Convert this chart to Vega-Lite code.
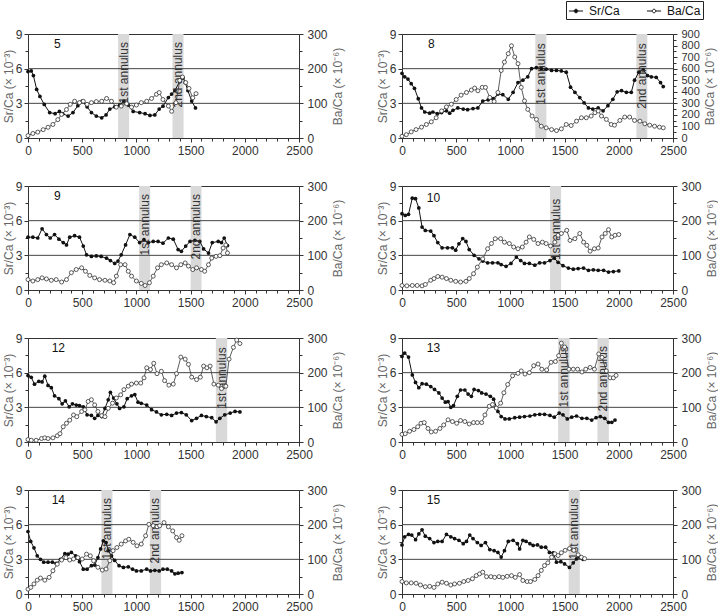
{
"$schema": "https://vega.github.io/schema/vega-lite/v6.json",
"padding": {"left": 1, "top": 0, "right": 0, "bottom": 0},
"datasets": {
"grid": [{"g": 3}, {"g": 6}],
"panels": [{"f":5,"name":"5"},{"f":8,"name":"8"},{"f":9,"name":"9"},{"f":10,"name":"10"},{"f":12,"name":"12"},{"f":13,"name":"13"},{"f":14,"name":"14"},{"f":15,"name":"15"}],
"bands": [
{"f":5,"x0":831,"x1":933,"label":"1st annulus"},{"f":5,"x0":1333,"x1":1435,"label":"2nd annulus"},
{"f":8,"x0":1230,"x1":1332,"label":"1st annulus"},{"f":8,"x0":2162,"x1":2263,"label":"2nd annulus"},
{"f":9,"x0":1025,"x1":1127,"label":"1st annulus"},{"f":9,"x0":1500,"x1":1601,"label":"2nd annulus"},
{"f":10,"x0":1366,"x1":1468,"label":"1st annulus"},
{"f":12,"x0":1733,"x1":1838,"label":"1st annulus"},
{"f":13,"x0":1440,"x1":1546,"label":"1st annulus"},{"f":13,"x0":1803,"x1":1908,"label":"2nd annulus"},
{"f":14,"x0":677,"x1":779,"label":"1st annulus"},{"f":14,"x0":1124,"x1":1228,"label":"2nd annulus"},
{"f":15,"x0":1538,"x1":1640,"label":"1st annulus"}
],
"sr": [
{"f":5,"x":0,"v":5.75},{"f":5,"x":30,"v":5.8},{"f":5,"x":50,"v":5.4},{"f":5,"x":80,"v":4.2},{"f":5,"x":110,"v":3.6},{"f":5,"x":150,"v":2.9},{"f":5,"x":200,"v":2.2},{"f":5,"x":250,"v":2.1},{"f":5,"x":290,"v":2.3},{"f":5,"x":320,"v":2.1},{"f":5,"x":370,"v":1.9},{"f":5,"x":415,"v":2.2},{"f":5,"x":460,"v":2.8},{"f":5,"x":500,"v":3.2},{"f":5,"x":545,"v":2.7},{"f":5,"x":585,"v":2.2},{"f":5,"x":630,"v":1.9},{"f":5,"x":680,"v":1.75},{"f":5,"x":720,"v":2.0},{"f":5,"x":755,"v":2.5},{"f":5,"x":800,"v":2.7},{"f":5,"x":845,"v":2.85},{"f":5,"x":885,"v":3.2},{"f":5,"x":925,"v":2.85},{"f":5,"x":970,"v":2.3},{"f":5,"x":1030,"v":2.2},{"f":5,"x":1080,"v":2.1},{"f":5,"x":1125,"v":1.95},{"f":5,"x":1170,"v":2.0},{"f":5,"x":1210,"v":2.5},{"f":5,"x":1245,"v":2.75},{"f":5,"x":1295,"v":3.5},{"f":5,"x":1325,"v":3.8},{"f":5,"x":1355,"v":4.1},{"f":5,"x":1400,"v":4.9},{"f":5,"x":1430,"v":5.2},{"f":5,"x":1450,"v":4.8},{"f":5,"x":1475,"v":4.1},{"f":5,"x":1510,"v":3.2},{"f":5,"x":1545,"v":2.6},
{"f":8,"x":0,"v":5.6},{"f":8,"x":25,"v":5.3},{"f":8,"x":55,"v":5.1},{"f":8,"x":85,"v":4.7},{"f":8,"x":115,"v":4.3},{"f":8,"x":150,"v":3.4},{"f":8,"x":180,"v":2.6},{"f":8,"x":210,"v":2.25},{"f":8,"x":255,"v":2.15},{"f":8,"x":285,"v":2.25},{"f":8,"x":325,"v":2.1},{"f":8,"x":365,"v":2.2},{"f":8,"x":410,"v":2.35},{"f":8,"x":440,"v":2.15},{"f":8,"x":470,"v":2.4},{"f":8,"x":515,"v":2.6},{"f":8,"x":565,"v":2.5},{"f":8,"x":605,"v":2.45},{"f":8,"x":655,"v":2.55},{"f":8,"x":700,"v":2.6},{"f":8,"x":745,"v":3.2},{"f":8,"x":795,"v":3.3},{"f":8,"x":840,"v":3.4},{"f":8,"x":885,"v":3.8},{"f":8,"x":930,"v":3.75},{"f":8,"x":980,"v":3.35},{"f":8,"x":1025,"v":3.95},{"f":8,"x":1070,"v":4.8},{"f":8,"x":1115,"v":5.0},{"f":8,"x":1160,"v":5.3},{"f":8,"x":1195,"v":6.0},{"f":8,"x":1240,"v":6.1},{"f":8,"x":1285,"v":6.0},{"f":8,"x":1330,"v":5.95},{"f":8,"x":1380,"v":5.85},{"f":8,"x":1425,"v":5.85},{"f":8,"x":1470,"v":5.8},{"f":8,"x":1515,"v":5.7},{"f":8,"x":1555,"v":4.4},{"f":8,"x":1595,"v":3.95},{"f":8,"x":1640,"v":3.5},{"f":8,"x":1680,"v":3.05},{"f":8,"x":1720,"v":2.6},{"f":8,"x":1760,"v":2.5},{"f":8,"x":1810,"v":2.6},{"f":8,"x":1855,"v":2.35},{"f":8,"x":1900,"v":2.8},{"f":8,"x":1945,"v":3.35},{"f":8,"x":1985,"v":4.0},{"f":8,"x":2025,"v":4.1},{"f":8,"x":2070,"v":3.95},{"f":8,"x":2115,"v":3.95},{"f":8,"x":2145,"v":5.0},{"f":8,"x":2185,"v":5.7},{"f":8,"x":2225,"v":5.9},{"f":8,"x":2265,"v":5.4},{"f":8,"x":2300,"v":5.3},{"f":8,"x":2345,"v":5.25},{"f":8,"x":2385,"v":4.8},{"f":8,"x":2410,"v":4.45},
{"f":9,"x":0,"v":4.57},{"f":9,"x":45,"v":4.57},{"f":9,"x":90,"v":4.5},{"f":9,"x":130,"v":5.3},{"f":9,"x":170,"v":4.8},{"f":9,"x":205,"v":4.5},{"f":9,"x":245,"v":4.8},{"f":9,"x":285,"v":4.4},{"f":9,"x":325,"v":4.1},{"f":9,"x":355,"v":3.9},{"f":9,"x":385,"v":4.57},{"f":9,"x":430,"v":4.7},{"f":9,"x":475,"v":4.57},{"f":9,"x":510,"v":3.8},{"f":9,"x":540,"v":3.05},{"f":9,"x":585,"v":2.9},{"f":9,"x":630,"v":2.95},{"f":9,"x":675,"v":2.9},{"f":9,"x":725,"v":2.75},{"f":9,"x":760,"v":2.55},{"f":9,"x":800,"v":2.3},{"f":9,"x":830,"v":2.5},{"f":9,"x":860,"v":3.05},{"f":9,"x":900,"v":3.9},{"f":9,"x":940,"v":4.8},{"f":9,"x":985,"v":4.57},{"f":9,"x":1030,"v":4.1},{"f":9,"x":1070,"v":4.35},{"f":9,"x":1110,"v":4.1},{"f":9,"x":1155,"v":4.2},{"f":9,"x":1200,"v":4.2},{"f":9,"x":1245,"v":4.05},{"f":9,"x":1295,"v":4.5},{"f":9,"x":1340,"v":4.4},{"f":9,"x":1385,"v":3.5},{"f":9,"x":1415,"v":3.35},{"f":9,"x":1455,"v":3.8},{"f":9,"x":1495,"v":4.2},{"f":9,"x":1540,"v":4.3},{"f":9,"x":1585,"v":4.2},{"f":9,"x":1620,"v":3.55},{"f":9,"x":1665,"v":3.2},{"f":9,"x":1700,"v":4.1},{"f":9,"x":1755,"v":4.2},{"f":9,"x":1785,"v":4.1},{"f":9,"x":1810,"v":4.5},{"f":9,"x":1840,"v":3.85},
{"f":10,"x":0,"v":6.6},{"f":10,"x":30,"v":6.45},{"f":10,"x":60,"v":6.55},{"f":10,"x":95,"v":7.95},{"f":10,"x":125,"v":7.9},{"f":10,"x":155,"v":7.1},{"f":10,"x":185,"v":5.45},{"f":10,"x":215,"v":5.15},{"f":10,"x":265,"v":5.1},{"f":10,"x":295,"v":4.7},{"f":10,"x":330,"v":4.1},{"f":10,"x":370,"v":3.65},{"f":10,"x":420,"v":3.65},{"f":10,"x":465,"v":3.65},{"f":10,"x":495,"v":3.45},{"f":10,"x":525,"v":4.0},{"f":10,"x":560,"v":4.45},{"f":10,"x":590,"v":4.2},{"f":10,"x":620,"v":3.5},{"f":10,"x":665,"v":3.0},{"f":10,"x":710,"v":2.7},{"f":10,"x":745,"v":2.5},{"f":10,"x":790,"v":2.35},{"f":10,"x":835,"v":2.35},{"f":10,"x":885,"v":2.35},{"f":10,"x":915,"v":2.2},{"f":10,"x":960,"v":2.05},{"f":10,"x":1005,"v":2.3},{"f":10,"x":1055,"v":2.85},{"f":10,"x":1095,"v":2.55},{"f":10,"x":1130,"v":2.3},{"f":10,"x":1175,"v":2.3},{"f":10,"x":1225,"v":2.15},{"f":10,"x":1270,"v":2.35},{"f":10,"x":1315,"v":2.35},{"f":10,"x":1365,"v":2.55},{"f":10,"x":1405,"v":2.75},{"f":10,"x":1440,"v":2.4},{"f":10,"x":1485,"v":2.1},{"f":10,"x":1535,"v":1.9},{"f":10,"x":1580,"v":1.8},{"f":10,"x":1625,"v":1.85},{"f":10,"x":1675,"v":1.9},{"f":10,"x":1720,"v":1.7},{"f":10,"x":1765,"v":1.75},{"f":10,"x":1810,"v":1.7},{"f":10,"x":1860,"v":1.7},{"f":10,"x":1905,"v":1.55},{"f":10,"x":1950,"v":1.6},{"f":10,"x":2000,"v":1.65},
{"f":12,"x":0,"v":5.75},{"f":12,"x":30,"v":5.6},{"f":12,"x":60,"v":5.0},{"f":12,"x":100,"v":5.25},{"f":12,"x":130,"v":5.2},{"f":12,"x":155,"v":5.7},{"f":12,"x":185,"v":4.9},{"f":12,"x":215,"v":4.7},{"f":12,"x":245,"v":4.0},{"f":12,"x":285,"v":3.75},{"f":12,"x":315,"v":3.3},{"f":12,"x":345,"v":3.55},{"f":12,"x":380,"v":3.05},{"f":12,"x":410,"v":3.3},{"f":12,"x":445,"v":3.2},{"f":12,"x":475,"v":3.15},{"f":12,"x":510,"v":3.05},{"f":12,"x":545,"v":2.35},{"f":12,"x":585,"v":2.3},{"f":12,"x":615,"v":2.05},{"f":12,"x":645,"v":2.3},{"f":12,"x":680,"v":2.2},{"f":12,"x":710,"v":2.9},{"f":12,"x":740,"v":3.65},{"f":12,"x":760,"v":4.3},{"f":12,"x":790,"v":3.8},{"f":12,"x":820,"v":3.3},{"f":12,"x":845,"v":2.9},{"f":12,"x":885,"v":3.05},{"f":12,"x":915,"v":3.75},{"f":12,"x":955,"v":4.0},{"f":12,"x":985,"v":4.1},{"f":12,"x":1015,"v":3.45},{"f":12,"x":1045,"v":3.35},{"f":12,"x":1095,"v":3.2},{"f":12,"x":1140,"v":2.8},{"f":12,"x":1185,"v":2.6},{"f":12,"x":1230,"v":2.35},{"f":12,"x":1280,"v":2.4},{"f":12,"x":1325,"v":2.3},{"f":12,"x":1370,"v":2.5},{"f":12,"x":1415,"v":2.55},{"f":12,"x":1460,"v":2.35},{"f":12,"x":1510,"v":1.85},{"f":12,"x":1555,"v":2.05},{"f":12,"x":1600,"v":2.3},{"f":12,"x":1645,"v":2.2},{"f":12,"x":1695,"v":2.1},{"f":12,"x":1735,"v":1.75},{"f":12,"x":1770,"v":2.05},{"f":12,"x":1815,"v":2.35},{"f":12,"x":1865,"v":2.5},{"f":12,"x":1910,"v":2.65},{"f":12,"x":1955,"v":2.6},
{"f":13,"x":0,"v":7.4},{"f":13,"x":25,"v":7.7},{"f":13,"x":60,"v":7.35},{"f":13,"x":95,"v":5.8},{"f":13,"x":125,"v":5.15},{"f":13,"x":155,"v":4.7},{"f":13,"x":185,"v":5.05},{"f":13,"x":225,"v":5.0},{"f":13,"x":265,"v":4.8},{"f":13,"x":300,"v":4.55},{"f":13,"x":340,"v":4.25},{"f":13,"x":370,"v":3.8},{"f":13,"x":400,"v":3.45},{"f":13,"x":425,"v":3.5},{"f":13,"x":450,"v":3.0},{"f":13,"x":475,"v":3.15},{"f":13,"x":510,"v":3.95},{"f":13,"x":540,"v":4.5},{"f":13,"x":580,"v":4.5},{"f":13,"x":610,"v":4.15},{"f":13,"x":640,"v":3.95},{"f":13,"x":665,"v":4.55},{"f":13,"x":705,"v":4.45},{"f":13,"x":735,"v":4.25},{"f":13,"x":775,"v":4.15},{"f":13,"x":815,"v":3.95},{"f":13,"x":845,"v":3.7},{"f":13,"x":885,"v":2.65},{"f":13,"x":915,"v":2.2},{"f":13,"x":950,"v":2.0},{"f":13,"x":990,"v":2.0},{"f":13,"x":1040,"v":2.1},{"f":13,"x":1085,"v":2.15},{"f":13,"x":1130,"v":2.2},{"f":13,"x":1180,"v":2.25},{"f":13,"x":1225,"v":2.35},{"f":13,"x":1270,"v":2.4},{"f":13,"x":1315,"v":2.4},{"f":13,"x":1365,"v":2.3},{"f":13,"x":1405,"v":2.15},{"f":13,"x":1450,"v":2.5},{"f":13,"x":1485,"v":2.35},{"f":13,"x":1525,"v":2.0},{"f":13,"x":1565,"v":2.15},{"f":13,"x":1610,"v":2.25},{"f":13,"x":1660,"v":2.05},{"f":13,"x":1705,"v":2.05},{"f":13,"x":1750,"v":1.9},{"f":13,"x":1790,"v":2.1},{"f":13,"x":1830,"v":2.2},{"f":13,"x":1870,"v":2.05},{"f":13,"x":1905,"v":1.7},{"f":13,"x":1935,"v":1.7},{"f":13,"x":1965,"v":1.9},
{"f":14,"x":0,"v":5.4},{"f":14,"x":25,"v":4.55},{"f":14,"x":55,"v":4.0},{"f":14,"x":85,"v":3.3},{"f":14,"x":115,"v":3.0},{"f":14,"x":145,"v":2.75},{"f":14,"x":185,"v":2.75},{"f":14,"x":225,"v":2.75},{"f":14,"x":260,"v":2.65},{"f":14,"x":300,"v":3.0},{"f":14,"x":340,"v":3.5},{"f":14,"x":370,"v":3.45},{"f":14,"x":400,"v":3.6},{"f":14,"x":440,"v":3.3},{"f":14,"x":475,"v":2.8},{"f":14,"x":510,"v":2.15},{"f":14,"x":545,"v":2.15},{"f":14,"x":585,"v":2.45},{"f":14,"x":615,"v":2.5},{"f":14,"x":645,"v":3.15},{"f":14,"x":670,"v":3.9},{"f":14,"x":695,"v":4.6},{"f":14,"x":720,"v":4.45},{"f":14,"x":740,"v":3.75},{"f":14,"x":770,"v":3.3},{"f":14,"x":800,"v":2.9},{"f":14,"x":840,"v":2.45},{"f":14,"x":880,"v":2.3},{"f":14,"x":925,"v":2.35},{"f":14,"x":965,"v":2.15},{"f":14,"x":1000,"v":2.0},{"f":14,"x":1045,"v":2.0},{"f":14,"x":1095,"v":2.15},{"f":14,"x":1130,"v":2.0},{"f":14,"x":1170,"v":2.05},{"f":14,"x":1210,"v":2.0},{"f":14,"x":1245,"v":2.15},{"f":14,"x":1285,"v":2.15},{"f":14,"x":1325,"v":2.0},{"f":14,"x":1355,"v":1.75},{"f":14,"x":1385,"v":1.8},{"f":14,"x":1420,"v":1.85},
{"f":15,"x":0,"v":4.25},{"f":15,"x":25,"v":4.95},{"f":15,"x":60,"v":5.15},{"f":15,"x":90,"v":5.1},{"f":15,"x":125,"v":4.7},{"f":15,"x":155,"v":5.2},{"f":15,"x":185,"v":5.55},{"f":15,"x":215,"v":5.0},{"f":15,"x":255,"v":4.8},{"f":15,"x":295,"v":4.45},{"f":15,"x":330,"v":4.55},{"f":15,"x":370,"v":4.55},{"f":15,"x":410,"v":5.15},{"f":15,"x":450,"v":4.95},{"f":15,"x":485,"v":4.8},{"f":15,"x":525,"v":4.65},{"f":15,"x":565,"v":4.35},{"f":15,"x":595,"v":4.55},{"f":15,"x":625,"v":5.1},{"f":15,"x":655,"v":4.8},{"f":15,"x":695,"v":4.45},{"f":15,"x":730,"v":4.2},{"f":15,"x":770,"v":4.45},{"f":15,"x":810,"v":3.85},{"f":15,"x":850,"v":3.75},{"f":15,"x":885,"v":3.6},{"f":15,"x":915,"v":3.2},{"f":15,"x":945,"v":3.75},{"f":15,"x":980,"v":4.55},{"f":15,"x":1025,"v":4.65},{"f":15,"x":1065,"v":4.35},{"f":15,"x":1085,"v":3.9},{"f":15,"x":1115,"v":4.65},{"f":15,"x":1145,"v":4.55},{"f":15,"x":1180,"v":4.35},{"f":15,"x":1210,"v":4.2},{"f":15,"x":1250,"v":4.25},{"f":15,"x":1285,"v":4.05},{"f":15,"x":1325,"v":4.05},{"f":15,"x":1360,"v":3.6},{"f":15,"x":1395,"v":3.55},{"f":15,"x":1425,"v":2.75},{"f":15,"x":1465,"v":2.8},{"f":15,"x":1500,"v":2.6},{"f":15,"x":1545,"v":2.3},{"f":15,"x":1580,"v":2.7},{"f":15,"x":1610,"v":3.05},{"f":15,"x":1640,"v":3.2},{"f":15,"x":1670,"v":3.0}
],
"ba": [
{"f":5,"x":0,"v":7},{"f":5,"x":45,"v":13},{"f":5,"x":90,"v":17},{"f":5,"x":140,"v":24},{"f":5,"x":185,"v":31},{"f":5,"x":230,"v":39},{"f":5,"x":275,"v":53},{"f":5,"x":310,"v":68},{"f":5,"x":355,"v":82},{"f":5,"x":390,"v":97},{"f":5,"x":430,"v":106},{"f":5,"x":475,"v":102},{"f":5,"x":510,"v":106},{"f":5,"x":545,"v":97},{"f":5,"x":585,"v":102},{"f":5,"x":630,"v":105},{"f":5,"x":680,"v":106},{"f":5,"x":725,"v":114},{"f":5,"x":770,"v":106},{"f":5,"x":815,"v":89},{"f":5,"x":860,"v":92},{"f":5,"x":910,"v":99},{"f":5,"x":955,"v":89},{"f":5,"x":1000,"v":95},{"f":5,"x":1045,"v":102},{"f":5,"x":1095,"v":106},{"f":5,"x":1140,"v":114},{"f":5,"x":1185,"v":126},{"f":5,"x":1210,"v":131},{"f":5,"x":1245,"v":111},{"f":5,"x":1295,"v":92},{"f":5,"x":1325,"v":77},{"f":5,"x":1365,"v":102},{"f":5,"x":1400,"v":166},{"f":5,"x":1425,"v":176},{"f":5,"x":1455,"v":160},{"f":5,"x":1485,"v":143},{"f":5,"x":1520,"v":116},{"f":5,"x":1550,"v":128},
{"f":8,"x":0,"v":15},{"f":8,"x":40,"v":29},{"f":8,"x":85,"v":53},{"f":8,"x":130,"v":73},{"f":8,"x":180,"v":94},{"f":8,"x":225,"v":117},{"f":8,"x":270,"v":140},{"f":8,"x":315,"v":175},{"f":8,"x":365,"v":234},{"f":8,"x":410,"v":269},{"f":8,"x":455,"v":292},{"f":8,"x":500,"v":333},{"f":8,"x":545,"v":371},{"f":8,"x":595,"v":394},{"f":8,"x":640,"v":415},{"f":8,"x":670,"v":432},{"f":8,"x":700,"v":409},{"f":8,"x":740,"v":438},{"f":8,"x":770,"v":438},{"f":8,"x":810,"v":351},{"f":8,"x":850,"v":316},{"f":8,"x":885,"v":394},{"f":8,"x":915,"v":584},{"f":8,"x":945,"v":657},{"f":8,"x":980,"v":730},{"f":8,"x":1010,"v":798},{"f":8,"x":1040,"v":701},{"f":8,"x":1070,"v":643},{"f":8,"x":1100,"v":438},{"f":8,"x":1130,"v":321},{"f":8,"x":1160,"v":248},{"f":8,"x":1200,"v":190},{"f":8,"x":1240,"v":161},{"f":8,"x":1285,"v":102},{"f":8,"x":1330,"v":88},{"f":8,"x":1380,"v":73},{"f":8,"x":1425,"v":64},{"f":8,"x":1470,"v":79},{"f":8,"x":1515,"v":117},{"f":8,"x":1560,"v":108},{"f":8,"x":1610,"v":146},{"f":8,"x":1655,"v":175},{"f":8,"x":1700,"v":175},{"f":8,"x":1745,"v":190},{"f":8,"x":1780,"v":219},{"f":8,"x":1810,"v":234},{"f":8,"x":1840,"v":190},{"f":8,"x":1885,"v":161},{"f":8,"x":1930,"v":117},{"f":8,"x":1960,"v":111},{"f":8,"x":2010,"v":152},{"f":8,"x":2055,"v":181},{"f":8,"x":2100,"v":181},{"f":8,"x":2145,"v":152},{"f":8,"x":2195,"v":146},{"f":8,"x":2240,"v":123},{"f":8,"x":2285,"v":111},{"f":8,"x":2330,"v":102},{"f":8,"x":2375,"v":94},{"f":8,"x":2410,"v":88},
{"f":9,"x":0,"v":30},{"f":9,"x":45,"v":26},{"f":9,"x":90,"v":30},{"f":9,"x":130,"v":35},{"f":9,"x":170,"v":32},{"f":9,"x":215,"v":28},{"f":9,"x":260,"v":30},{"f":9,"x":310,"v":23},{"f":9,"x":355,"v":30},{"f":9,"x":400,"v":50},{"f":9,"x":445,"v":59},{"f":9,"x":495,"v":64},{"f":9,"x":530,"v":54},{"f":9,"x":570,"v":42},{"f":9,"x":615,"v":35},{"f":9,"x":660,"v":30},{"f":9,"x":710,"v":28},{"f":9,"x":755,"v":26},{"f":9,"x":790,"v":21},{"f":9,"x":815,"v":40},{"f":9,"x":855,"v":73},{"f":9,"x":895,"v":73},{"f":9,"x":925,"v":54},{"f":9,"x":955,"v":40},{"f":9,"x":1000,"v":26},{"f":9,"x":1045,"v":19},{"f":9,"x":1080,"v":13},{"f":9,"x":1120,"v":21},{"f":9,"x":1155,"v":40},{"f":9,"x":1195,"v":64},{"f":9,"x":1230,"v":73},{"f":9,"x":1280,"v":78},{"f":9,"x":1325,"v":73},{"f":9,"x":1370,"v":64},{"f":9,"x":1410,"v":73},{"f":9,"x":1450,"v":78},{"f":9,"x":1480,"v":69},{"f":9,"x":1520,"v":59},{"f":9,"x":1555,"v":64},{"f":9,"x":1600,"v":59},{"f":9,"x":1630,"v":54},{"f":9,"x":1665,"v":73},{"f":9,"x":1695,"v":92},{"f":9,"x":1735,"v":97},{"f":9,"x":1770,"v":99},{"f":9,"x":1800,"v":121},{"f":9,"x":1825,"v":130},{"f":9,"x":1840,"v":107},
{"f":10,"x":0,"v":13},{"f":10,"x":45,"v":12},{"f":10,"x":95,"v":13},{"f":10,"x":140,"v":13},{"f":10,"x":185,"v":12},{"f":10,"x":215,"v":16},{"f":10,"x":265,"v":28},{"f":10,"x":295,"v":33},{"f":10,"x":330,"v":39},{"f":10,"x":370,"v":37},{"f":10,"x":410,"v":33},{"f":10,"x":450,"v":28},{"f":10,"x":495,"v":25},{"f":10,"x":540,"v":23},{"f":10,"x":590,"v":25},{"f":10,"x":620,"v":33},{"f":10,"x":660,"v":47},{"f":10,"x":695,"v":66},{"f":10,"x":745,"v":90},{"f":10,"x":790,"v":119},{"f":10,"x":825,"v":134},{"f":10,"x":860,"v":148},{"f":10,"x":910,"v":148},{"f":10,"x":945,"v":138},{"f":10,"x":990,"v":134},{"f":10,"x":1030,"v":124},{"f":10,"x":1070,"v":119},{"f":10,"x":1110,"v":124},{"f":10,"x":1145,"v":138},{"f":10,"x":1175,"v":153},{"f":10,"x":1215,"v":146},{"f":10,"x":1255,"v":134},{"f":10,"x":1295,"v":138},{"f":10,"x":1330,"v":134},{"f":10,"x":1370,"v":127},{"f":10,"x":1410,"v":138},{"f":10,"x":1440,"v":158},{"f":10,"x":1470,"v":163},{"f":10,"x":1520,"v":172},{"f":10,"x":1550,"v":143},{"f":10,"x":1595,"v":148},{"f":10,"x":1640,"v":163},{"f":10,"x":1675,"v":138},{"f":10,"x":1705,"v":129},{"f":10,"x":1735,"v":112},{"f":10,"x":1775,"v":119},{"f":10,"x":1810,"v":121},{"f":10,"x":1845,"v":153},{"f":10,"x":1875,"v":163},{"f":10,"x":1905,"v":174},{"f":10,"x":1935,"v":153},{"f":10,"x":1965,"v":158},{"f":10,"x":2000,"v":160},
{"f":12,"x":0,"v":7},{"f":12,"x":30,"v":5},{"f":12,"x":75,"v":5},{"f":12,"x":125,"v":10},{"f":12,"x":155,"v":12},{"f":12,"x":185,"v":10},{"f":12,"x":230,"v":12},{"f":12,"x":270,"v":18},{"f":12,"x":295,"v":24},{"f":12,"x":325,"v":44},{"f":12,"x":355,"v":54},{"f":12,"x":385,"v":63},{"f":12,"x":420,"v":78},{"f":12,"x":450,"v":73},{"f":12,"x":495,"v":88},{"f":12,"x":525,"v":93},{"f":12,"x":555,"v":117},{"f":12,"x":585,"v":122},{"f":12,"x":615,"v":107},{"f":12,"x":645,"v":88},{"f":12,"x":680,"v":76},{"f":12,"x":710,"v":73},{"f":12,"x":740,"v":97},{"f":12,"x":780,"v":112},{"f":12,"x":815,"v":127},{"f":12,"x":855,"v":136},{"f":12,"x":885,"v":151},{"f":12,"x":925,"v":161},{"f":12,"x":955,"v":167},{"f":12,"x":1000,"v":170},{"f":12,"x":1040,"v":170},{"f":12,"x":1070,"v":185},{"f":12,"x":1095,"v":214},{"f":12,"x":1130,"v":209},{"f":12,"x":1160,"v":227},{"f":12,"x":1190,"v":197},{"f":12,"x":1230,"v":204},{"f":12,"x":1260,"v":177},{"f":12,"x":1300,"v":164},{"f":12,"x":1340,"v":167},{"f":12,"x":1370,"v":197},{"f":12,"x":1410,"v":245},{"f":12,"x":1450,"v":239},{"f":12,"x":1480,"v":224},{"f":12,"x":1510,"v":187},{"f":12,"x":1555,"v":180},{"f":12,"x":1590,"v":187},{"f":12,"x":1620,"v":219},{"f":12,"x":1650,"v":214},{"f":12,"x":1680,"v":219},{"f":12,"x":1715,"v":167},{"f":12,"x":1755,"v":164},{"f":12,"x":1785,"v":154},{"f":12,"x":1825,"v":161},{"f":12,"x":1855,"v":239},{"f":12,"x":1895,"v":273},{"f":12,"x":1925,"v":294},{"f":12,"x":1955,"v":284},
{"f":13,"x":0,"v":22},{"f":13,"x":30,"v":24},{"f":13,"x":70,"v":31},{"f":13,"x":110,"v":36},{"f":13,"x":145,"v":44},{"f":13,"x":175,"v":54},{"f":13,"x":205,"v":56},{"f":13,"x":240,"v":39},{"f":13,"x":270,"v":29},{"f":13,"x":310,"v":31},{"f":13,"x":350,"v":39},{"f":13,"x":385,"v":49},{"f":13,"x":425,"v":64},{"f":13,"x":465,"v":59},{"f":13,"x":505,"v":54},{"f":13,"x":540,"v":62},{"f":13,"x":580,"v":59},{"f":13,"x":620,"v":52},{"f":13,"x":660,"v":56},{"f":13,"x":695,"v":56},{"f":13,"x":735,"v":56},{"f":13,"x":765,"v":78},{"f":13,"x":805,"v":103},{"f":13,"x":835,"v":108},{"f":13,"x":870,"v":98},{"f":13,"x":910,"v":112},{"f":13,"x":940,"v":142},{"f":13,"x":975,"v":166},{"f":13,"x":1020,"v":191},{"f":13,"x":1070,"v":198},{"f":13,"x":1100,"v":205},{"f":13,"x":1135,"v":196},{"f":13,"x":1175,"v":200},{"f":13,"x":1215,"v":220},{"f":13,"x":1255,"v":225},{"f":13,"x":1290,"v":210},{"f":13,"x":1335,"v":208},{"f":13,"x":1375,"v":230},{"f":13,"x":1415,"v":232},{"f":13,"x":1445,"v":249},{"f":13,"x":1470,"v":285},{"f":13,"x":1500,"v":274},{"f":13,"x":1540,"v":210},{"f":13,"x":1580,"v":210},{"f":13,"x":1620,"v":210},{"f":13,"x":1660,"v":202},{"f":13,"x":1695,"v":210},{"f":13,"x":1735,"v":215},{"f":13,"x":1775,"v":210},{"f":13,"x":1815,"v":254},{"f":13,"x":1845,"v":244},{"f":13,"x":1885,"v":205},{"f":13,"x":1920,"v":185},{"f":13,"x":1950,"v":185},{"f":13,"x":1975,"v":192},
{"f":14,"x":0,"v":14},{"f":14,"x":25,"v":19},{"f":14,"x":55,"v":29},{"f":14,"x":85,"v":40},{"f":14,"x":115,"v":46},{"f":14,"x":155,"v":40},{"f":14,"x":195,"v":48},{"f":14,"x":230,"v":67},{"f":14,"x":270,"v":86},{"f":14,"x":310,"v":98},{"f":14,"x":350,"v":105},{"f":14,"x":385,"v":98},{"f":14,"x":420,"v":101},{"f":14,"x":460,"v":105},{"f":14,"x":500,"v":101},{"f":14,"x":540,"v":115},{"f":14,"x":575,"v":110},{"f":14,"x":605,"v":96},{"f":14,"x":645,"v":77},{"f":14,"x":685,"v":69},{"f":14,"x":720,"v":72},{"f":14,"x":755,"v":96},{"f":14,"x":785,"v":125},{"f":14,"x":820,"v":134},{"f":14,"x":860,"v":144},{"f":14,"x":900,"v":153},{"f":14,"x":930,"v":158},{"f":14,"x":970,"v":149},{"f":14,"x":1005,"v":139},{"f":14,"x":1045,"v":144},{"f":14,"x":1085,"v":168},{"f":14,"x":1115,"v":201},{"f":14,"x":1155,"v":197},{"f":14,"x":1190,"v":194},{"f":14,"x":1215,"v":197},{"f":14,"x":1255,"v":206},{"f":14,"x":1295,"v":194},{"f":14,"x":1335,"v":182},{"f":14,"x":1370,"v":163},{"f":14,"x":1395,"v":155},{"f":14,"x":1420,"v":168},
{"f":15,"x":0,"v":36},{"f":15,"x":40,"v":32},{"f":15,"x":85,"v":32},{"f":15,"x":130,"v":31},{"f":15,"x":170,"v":26},{"f":15,"x":215,"v":21},{"f":15,"x":255,"v":22},{"f":15,"x":295,"v":19},{"f":15,"x":330,"v":29},{"f":15,"x":370,"v":34},{"f":15,"x":410,"v":31},{"f":15,"x":450,"v":26},{"f":15,"x":485,"v":29},{"f":15,"x":530,"v":31},{"f":15,"x":570,"v":36},{"f":15,"x":610,"v":39},{"f":15,"x":650,"v":44},{"f":15,"x":685,"v":53},{"f":15,"x":715,"v":58},{"f":15,"x":745,"v":63},{"f":15,"x":780,"v":50},{"f":15,"x":820,"v":50},{"f":15,"x":855,"v":48},{"f":15,"x":895,"v":50},{"f":15,"x":930,"v":48},{"f":15,"x":970,"v":51},{"f":15,"x":1010,"v":53},{"f":15,"x":1045,"v":48},{"f":15,"x":1085,"v":56},{"f":15,"x":1115,"v":39},{"f":15,"x":1155,"v":36},{"f":15,"x":1185,"v":36},{"f":15,"x":1225,"v":42},{"f":15,"x":1255,"v":53},{"f":15,"x":1285,"v":68},{"f":15,"x":1315,"v":82},{"f":15,"x":1345,"v":90},{"f":15,"x":1380,"v":106},{"f":15,"x":1410,"v":116},{"f":15,"x":1440,"v":111},{"f":15,"x":1470,"v":119},{"f":15,"x":1505,"v":126},{"f":15,"x":1545,"v":131},{"f":15,"x":1585,"v":126},{"f":15,"x":1625,"v":113},{"f":15,"x":1655,"v":106},{"f":15,"x":1685,"v":102}
]
},
"columns": 2,
"bounds": "flush",
"spacing": {"row": 48, "column": 103},
"concat": [
{"width":271,"height":104,"resolve":{"scale":{"y":"independent"}},"layer":[
 {"resolve":{"axis":{"x":"independent","y":"independent"}},"layer":[
  {"data":{"name":"bands"},"transform":[{"filter":"datum.f==5"}],"mark":{"type":"rect","color":"#d9d9d9"},"encoding":{"x":{"field":"x0","type":"quantitative","axis":{"orient":"bottom","values":[0,100,200,300,400,600,700,800,900,1100,1200,1300,1400,1600,1700,1800,1900,2100,2200,2300,2400],"labels":false,"domain":false,"title":null,"tickSize":3}},"x2":{"field":"x1"},"y":{"datum":0,"type":"quantitative","axis":null},"y2":{"datum":9}}},
  {"data":{"name":"grid"},"mark":{"type":"rule","color":"#444","strokeWidth":1},"encoding":{"y":{"field":"g","type":"quantitative","axis":{"orient":"left","values":[1.5,4.5,7.5],"labels":false,"domain":false,"title":null,"tickSize":3}}}},
  {"data":{"name":"sr"},"transform":[{"filter":"datum.f==5"}],"mark":{"type":"line","color":"#111","strokeWidth":1},"encoding":{"x":{"field":"x","type":"quantitative","scale":{"domain":[0,2500],"nice":false},"axis":{"orient":"bottom","values":[0,500,1000,1500,2000,2500],"format":"d","title":null,"labelFlush":false,"labelOverlap":false}},"y":{"field":"v","type":"quantitative","scale":{"domain":[0,9],"nice":false},"axis":{"orient":"left","values":[0,3,6,9],"labelOverlap":false,"title":"Sr/Ca (× 10⁻³)","titlePadding":0}}}},
  {"data":{"name":"sr"},"transform":[{"filter":"datum.f==5"}],"mark":{"type":"point","filled":true,"size":14,"opacity":1},"encoding":{"x":{"field":"x","type":"quantitative","axis":null},"y":{"field":"v","type":"quantitative","axis":null},"fill":{"datum":"Sr/Ca","type":"nominal","scale":{"domain":["Sr/Ca","Ba/Ca"],"range":["#111111","#ffffff"]},"legend":{"orient":"none","legendX":538,"legendY":-33,"direction":"horizontal","title":null,"strokeColor":"#222","padding":2,"symbolType":"M-1,0L-0.25,0M0.25,0L1,0M-0.25,0A0.25,0.25,0,1,1,0.25,0A0.25,0.25,0,1,1,-0.25,0Z","symbolSize":200,"symbolStrokeColor":"#111","symbolStrokeWidth":1,"labelFontSize":12,"columnPadding":24,"labelOffset":5,"labelColor":"#111"}}}},
  {"data":{"name":"bands"},"transform":[{"filter":"datum.f==5"},{"calculate":"(datum.x0+datum.x1)/2","as":"xc"}],"mark":{"type":"text","angle":270,"align":"right","baseline":"middle","fontSize":12,"color":"#333"},"encoding":{"x":{"field":"xc","type":"quantitative","axis":null},"y":{"datum":8.3,"type":"quantitative","axis":null},"text":{"field":"label"}}},
  {"data":{"name":"panels"},"transform":[{"filter":"datum.f==5"}],"mark":{"type":"text","fontSize":12,"color":"#111","align":"center","baseline":"middle"},"encoding":{"x":{"datum":270,"type":"quantitative","axis":null},"y":{"datum":8.1,"type":"quantitative","axis":null},"text":{"field":"name"}}}
 ]},
 {"resolve":{"axis":{"y":"independent"}},"layer":[
  {"data":{"name":"ba"},"transform":[{"filter":"datum.f==5"}],"mark":{"type":"line","color":"#333","strokeWidth":0.8},"encoding":{"x":{"field":"x","type":"quantitative","axis":null},"y":{"field":"v","type":"quantitative","scale":{"domain":[0,300],"nice":false},"axis":{"orient":"right","values":[0,100,200,300],"labelOverlap":false,"title":"Ba/Ca (× 10⁻⁶)","titleAngle":270,"titlePadding":17}}}},
  {"data":{"name":"ba"},"transform":[{"filter":"datum.f==5"}],"mark":{"type":"point","filled":true,"size":16,"stroke":"#333","strokeWidth":0.8,"opacity":1},"encoding":{"x":{"field":"x","type":"quantitative","axis":null},"y":{"field":"v","type":"quantitative","axis":{"orient":"right","values":[50,150,250],"labels":false,"domain":false,"title":null,"tickSize":3}},"fill":{"datum":"Ba/Ca","type":"nominal"}}}
 ]}
]},
{"width":271,"height":104,"resolve":{"scale":{"y":"independent"}},"layer":[
 {"resolve":{"axis":{"x":"independent","y":"independent"}},"layer":[
  {"data":{"name":"bands"},"transform":[{"filter":"datum.f==8"}],"mark":{"type":"rect","color":"#d9d9d9"},"encoding":{"x":{"field":"x0","type":"quantitative","axis":{"orient":"bottom","values":[0,100,200,300,400,600,700,800,900,1100,1200,1300,1400,1600,1700,1800,1900,2100,2200,2300,2400],"labels":false,"domain":false,"title":null,"tickSize":3}},"x2":{"field":"x1"},"y":{"datum":0,"type":"quantitative","axis":null},"y2":{"datum":9}}},
  {"data":{"name":"grid"},"mark":{"type":"rule","color":"#444","strokeWidth":1},"encoding":{"y":{"field":"g","type":"quantitative","axis":{"orient":"left","values":[1.5,4.5,7.5],"labels":false,"domain":false,"title":null,"tickSize":3}}}},
  {"data":{"name":"sr"},"transform":[{"filter":"datum.f==8"}],"mark":{"type":"line","color":"#111","strokeWidth":1},"encoding":{"x":{"field":"x","type":"quantitative","scale":{"domain":[0,2500],"nice":false},"axis":{"orient":"bottom","values":[0,500,1000,1500,2000,2500],"format":"d","title":null,"labelFlush":false,"labelOverlap":false}},"y":{"field":"v","type":"quantitative","scale":{"domain":[0,9],"nice":false},"axis":{"orient":"left","values":[0,3,6,9],"labelOverlap":false,"title":"Sr/Ca (× 10⁻³)","titlePadding":0}}}},
  {"data":{"name":"sr"},"transform":[{"filter":"datum.f==8"}],"mark":{"type":"point","filled":true,"size":14,"opacity":1},"encoding":{"x":{"field":"x","type":"quantitative","axis":null},"y":{"field":"v","type":"quantitative","axis":null},"fill":{"datum":"Sr/Ca","type":"nominal"}}},
  {"data":{"name":"bands"},"transform":[{"filter":"datum.f==8"},{"calculate":"(datum.x0+datum.x1)/2","as":"xc"}],"mark":{"type":"text","angle":270,"align":"right","baseline":"middle","fontSize":12,"color":"#333"},"encoding":{"x":{"field":"xc","type":"quantitative","axis":null},"y":{"datum":8.2,"type":"quantitative","axis":null},"text":{"field":"label"}}},
  {"data":{"name":"panels"},"transform":[{"filter":"datum.f==8"}],"mark":{"type":"text","fontSize":12,"color":"#111","align":"center","baseline":"middle"},"encoding":{"x":{"datum":270,"type":"quantitative","axis":null},"y":{"datum":8.1,"type":"quantitative","axis":null},"text":{"field":"name"}}}
 ]},
 {"resolve":{"axis":{"y":"independent"}},"layer":[
  {"data":{"name":"ba"},"transform":[{"filter":"datum.f==8"}],"mark":{"type":"line","color":"#333","strokeWidth":0.8},"encoding":{"x":{"field":"x","type":"quantitative","axis":null},"y":{"field":"v","type":"quantitative","scale":{"domain":[0,900],"nice":false},"axis":{"orient":"right","values":[0,100,200,300,400,500,600,700,800,900],"labelOverlap":false,"labelFontSize":11,"title":"Ba/Ca (× 10⁻⁶)","titleAngle":270,"titlePadding":17}}}},
  {"data":{"name":"ba"},"transform":[{"filter":"datum.f==8"}],"mark":{"type":"point","filled":true,"size":16,"stroke":"#333","strokeWidth":0.8,"opacity":1},"encoding":{"x":{"field":"x","type":"quantitative","axis":null},"y":{"field":"v","type":"quantitative","axis":{"orient":"right","values":[50,150,250,350,450,550,650,750,850],"labels":false,"domain":false,"title":null,"tickSize":3}},"fill":{"datum":"Ba/Ca","type":"nominal"}}}
 ]}
]},
{"width":271,"height":104,"resolve":{"scale":{"y":"independent"}},"layer":[
 {"resolve":{"axis":{"x":"independent","y":"independent"}},"layer":[
  {"data":{"name":"bands"},"transform":[{"filter":"datum.f==9"}],"mark":{"type":"rect","color":"#d9d9d9"},"encoding":{"x":{"field":"x0","type":"quantitative","axis":{"orient":"bottom","values":[0,100,200,300,400,600,700,800,900,1100,1200,1300,1400,1600,1700,1800,1900,2100,2200,2300,2400],"labels":false,"domain":false,"title":null,"tickSize":3}},"x2":{"field":"x1"},"y":{"datum":0,"type":"quantitative","axis":null},"y2":{"datum":9}}},
  {"data":{"name":"grid"},"mark":{"type":"rule","color":"#444","strokeWidth":1},"encoding":{"y":{"field":"g","type":"quantitative","axis":{"orient":"left","values":[1.5,4.5,7.5],"labels":false,"domain":false,"title":null,"tickSize":3}}}},
  {"data":{"name":"sr"},"transform":[{"filter":"datum.f==9"}],"mark":{"type":"line","color":"#111","strokeWidth":1},"encoding":{"x":{"field":"x","type":"quantitative","scale":{"domain":[0,2500],"nice":false},"axis":{"orient":"bottom","values":[0,500,1000,1500,2000,2500],"format":"d","title":null,"labelFlush":false,"labelOverlap":false}},"y":{"field":"v","type":"quantitative","scale":{"domain":[0,9],"nice":false},"axis":{"orient":"left","values":[0,3,6,9],"labelOverlap":false,"title":"Sr/Ca (× 10⁻³)","titlePadding":0}}}},
  {"data":{"name":"sr"},"transform":[{"filter":"datum.f==9"}],"mark":{"type":"point","filled":true,"size":14,"opacity":1},"encoding":{"x":{"field":"x","type":"quantitative","axis":null},"y":{"field":"v","type":"quantitative","axis":null},"fill":{"datum":"Sr/Ca","type":"nominal"}}},
  {"data":{"name":"bands"},"transform":[{"filter":"datum.f==9"},{"calculate":"(datum.x0+datum.x1)/2","as":"xc"}],"mark":{"type":"text","angle":270,"align":"right","baseline":"middle","fontSize":12,"color":"#333"},"encoding":{"x":{"field":"xc","type":"quantitative","axis":null},"y":{"datum":8.3,"type":"quantitative","axis":null},"text":{"field":"label"}}},
  {"data":{"name":"panels"},"transform":[{"filter":"datum.f==9"}],"mark":{"type":"text","fontSize":12,"color":"#111","align":"center","baseline":"middle"},"encoding":{"x":{"datum":270,"type":"quantitative","axis":null},"y":{"datum":8.1,"type":"quantitative","axis":null},"text":{"field":"name"}}}
 ]},
 {"resolve":{"axis":{"y":"independent"}},"layer":[
  {"data":{"name":"ba"},"transform":[{"filter":"datum.f==9"}],"mark":{"type":"line","color":"#333","strokeWidth":0.8},"encoding":{"x":{"field":"x","type":"quantitative","axis":null},"y":{"field":"v","type":"quantitative","scale":{"domain":[0,300],"nice":false},"axis":{"orient":"right","values":[0,100,200,300],"labelOverlap":false,"title":"Ba/Ca (× 10⁻⁶)","titleAngle":270,"titlePadding":17}}}},
  {"data":{"name":"ba"},"transform":[{"filter":"datum.f==9"}],"mark":{"type":"point","filled":true,"size":16,"stroke":"#333","strokeWidth":0.8,"opacity":1},"encoding":{"x":{"field":"x","type":"quantitative","axis":null},"y":{"field":"v","type":"quantitative","axis":{"orient":"right","values":[50,150,250],"labels":false,"domain":false,"title":null,"tickSize":3}},"fill":{"datum":"Ba/Ca","type":"nominal"}}}
 ]}
]},
{"width":271,"height":104,"resolve":{"scale":{"y":"independent"}},"layer":[
 {"resolve":{"axis":{"x":"independent","y":"independent"}},"layer":[
  {"data":{"name":"bands"},"transform":[{"filter":"datum.f==10"}],"mark":{"type":"rect","color":"#d9d9d9"},"encoding":{"x":{"field":"x0","type":"quantitative","axis":{"orient":"bottom","values":[0,100,200,300,400,600,700,800,900,1100,1200,1300,1400,1600,1700,1800,1900,2100,2200,2300,2400],"labels":false,"domain":false,"title":null,"tickSize":3}},"x2":{"field":"x1"},"y":{"datum":0,"type":"quantitative","axis":null},"y2":{"datum":9}}},
  {"data":{"name":"grid"},"mark":{"type":"rule","color":"#444","strokeWidth":1},"encoding":{"y":{"field":"g","type":"quantitative","axis":{"orient":"left","values":[1.5,4.5,7.5],"labels":false,"domain":false,"title":null,"tickSize":3}}}},
  {"data":{"name":"sr"},"transform":[{"filter":"datum.f==10"}],"mark":{"type":"line","color":"#111","strokeWidth":1},"encoding":{"x":{"field":"x","type":"quantitative","scale":{"domain":[0,2500],"nice":false},"axis":{"orient":"bottom","values":[0,500,1000,1500,2000,2500],"format":"d","title":null,"labelFlush":false,"labelOverlap":false}},"y":{"field":"v","type":"quantitative","scale":{"domain":[0,9],"nice":false},"axis":{"orient":"left","values":[0,3,6,9],"labelOverlap":false,"title":"Sr/Ca (× 10⁻³)","titlePadding":0}}}},
  {"data":{"name":"sr"},"transform":[{"filter":"datum.f==10"}],"mark":{"type":"point","filled":true,"size":14,"opacity":1},"encoding":{"x":{"field":"x","type":"quantitative","axis":null},"y":{"field":"v","type":"quantitative","axis":null},"fill":{"datum":"Sr/Ca","type":"nominal"}}},
  {"data":{"name":"bands"},"transform":[{"filter":"datum.f==10"},{"calculate":"(datum.x0+datum.x1)/2","as":"xc"}],"mark":{"type":"text","angle":270,"align":"right","baseline":"middle","fontSize":12,"color":"#333"},"encoding":{"x":{"field":"xc","type":"quantitative","axis":null},"y":{"datum":7.9,"type":"quantitative","axis":null},"text":{"field":"label"}}},
  {"data":{"name":"panels"},"transform":[{"filter":"datum.f==10"}],"mark":{"type":"text","fontSize":12,"color":"#111","align":"center","baseline":"middle"},"encoding":{"x":{"datum":290,"type":"quantitative","axis":null},"y":{"datum":8.0,"type":"quantitative","axis":null},"text":{"field":"name"}}}
 ]},
 {"resolve":{"axis":{"y":"independent"}},"layer":[
  {"data":{"name":"ba"},"transform":[{"filter":"datum.f==10"}],"mark":{"type":"line","color":"#333","strokeWidth":0.8},"encoding":{"x":{"field":"x","type":"quantitative","axis":null},"y":{"field":"v","type":"quantitative","scale":{"domain":[0,300],"nice":false},"axis":{"orient":"right","values":[0,100,200,300],"labelOverlap":false,"title":"Ba/Ca (× 10⁻⁶)","titleAngle":270,"titlePadding":17}}}},
  {"data":{"name":"ba"},"transform":[{"filter":"datum.f==10"}],"mark":{"type":"point","filled":true,"size":16,"stroke":"#333","strokeWidth":0.8,"opacity":1},"encoding":{"x":{"field":"x","type":"quantitative","axis":null},"y":{"field":"v","type":"quantitative","axis":{"orient":"right","values":[50,150,250],"labels":false,"domain":false,"title":null,"tickSize":3}},"fill":{"datum":"Ba/Ca","type":"nominal"}}}
 ]}
]},
{"width":271,"height":104,"resolve":{"scale":{"y":"independent"}},"layer":[
 {"resolve":{"axis":{"x":"independent","y":"independent"}},"layer":[
  {"data":{"name":"bands"},"transform":[{"filter":"datum.f==12"}],"mark":{"type":"rect","color":"#d9d9d9"},"encoding":{"x":{"field":"x0","type":"quantitative","axis":{"orient":"bottom","values":[0,100,200,300,400,600,700,800,900,1100,1200,1300,1400,1600,1700,1800,1900,2100,2200,2300,2400],"labels":false,"domain":false,"title":null,"tickSize":3}},"x2":{"field":"x1"},"y":{"datum":0,"type":"quantitative","axis":null},"y2":{"datum":9}}},
  {"data":{"name":"grid"},"mark":{"type":"rule","color":"#444","strokeWidth":1},"encoding":{"y":{"field":"g","type":"quantitative","axis":{"orient":"left","values":[1.5,4.5,7.5],"labels":false,"domain":false,"title":null,"tickSize":3}}}},
  {"data":{"name":"sr"},"transform":[{"filter":"datum.f==12"}],"mark":{"type":"line","color":"#111","strokeWidth":1},"encoding":{"x":{"field":"x","type":"quantitative","scale":{"domain":[0,2500],"nice":false},"axis":{"orient":"bottom","values":[0,500,1000,1500,2000,2500],"format":"d","title":null,"labelFlush":false,"labelOverlap":false}},"y":{"field":"v","type":"quantitative","scale":{"domain":[0,9],"nice":false},"axis":{"orient":"left","values":[0,3,6,9],"labelOverlap":false,"title":"Sr/Ca (× 10⁻³)","titlePadding":0}}}},
  {"data":{"name":"sr"},"transform":[{"filter":"datum.f==12"}],"mark":{"type":"point","filled":true,"size":14,"opacity":1},"encoding":{"x":{"field":"x","type":"quantitative","axis":null},"y":{"field":"v","type":"quantitative","axis":null},"fill":{"datum":"Sr/Ca","type":"nominal"}}},
  {"data":{"name":"bands"},"transform":[{"filter":"datum.f==12"},{"calculate":"(datum.x0+datum.x1)/2","as":"xc"}],"mark":{"type":"text","angle":270,"align":"right","baseline":"middle","fontSize":12,"color":"#333"},"encoding":{"x":{"field":"xc","type":"quantitative","axis":null},"y":{"datum":8.2,"type":"quantitative","axis":null},"text":{"field":"label"}}},
  {"data":{"name":"panels"},"transform":[{"filter":"datum.f==12"}],"mark":{"type":"text","fontSize":12,"color":"#111","align":"center","baseline":"middle"},"encoding":{"x":{"datum":280,"type":"quantitative","axis":null},"y":{"datum":8.1,"type":"quantitative","axis":null},"text":{"field":"name"}}}
 ]},
 {"resolve":{"axis":{"y":"independent"}},"layer":[
  {"data":{"name":"ba"},"transform":[{"filter":"datum.f==12"}],"mark":{"type":"line","color":"#333","strokeWidth":0.8},"encoding":{"x":{"field":"x","type":"quantitative","axis":null},"y":{"field":"v","type":"quantitative","scale":{"domain":[0,300],"nice":false},"axis":{"orient":"right","values":[0,100,200,300],"labelOverlap":false,"title":"Ba/Ca (× 10⁻⁶)","titleAngle":270,"titlePadding":17}}}},
  {"data":{"name":"ba"},"transform":[{"filter":"datum.f==12"}],"mark":{"type":"point","filled":true,"size":16,"stroke":"#333","strokeWidth":0.8,"opacity":1},"encoding":{"x":{"field":"x","type":"quantitative","axis":null},"y":{"field":"v","type":"quantitative","axis":{"orient":"right","values":[50,150,250],"labels":false,"domain":false,"title":null,"tickSize":3}},"fill":{"datum":"Ba/Ca","type":"nominal"}}}
 ]}
]},
{"width":271,"height":104,"resolve":{"scale":{"y":"independent"}},"layer":[
 {"resolve":{"axis":{"x":"independent","y":"independent"}},"layer":[
  {"data":{"name":"bands"},"transform":[{"filter":"datum.f==13"}],"mark":{"type":"rect","color":"#d9d9d9"},"encoding":{"x":{"field":"x0","type":"quantitative","axis":{"orient":"bottom","values":[0,100,200,300,400,600,700,800,900,1100,1200,1300,1400,1600,1700,1800,1900,2100,2200,2300,2400],"labels":false,"domain":false,"title":null,"tickSize":3}},"x2":{"field":"x1"},"y":{"datum":0,"type":"quantitative","axis":null},"y2":{"datum":9}}},
  {"data":{"name":"grid"},"mark":{"type":"rule","color":"#444","strokeWidth":1},"encoding":{"y":{"field":"g","type":"quantitative","axis":{"orient":"left","values":[1.5,4.5,7.5],"labels":false,"domain":false,"title":null,"tickSize":3}}}},
  {"data":{"name":"sr"},"transform":[{"filter":"datum.f==13"}],"mark":{"type":"line","color":"#111","strokeWidth":1},"encoding":{"x":{"field":"x","type":"quantitative","scale":{"domain":[0,2500],"nice":false},"axis":{"orient":"bottom","values":[0,500,1000,1500,2000,2500],"format":"d","title":null,"labelFlush":false,"labelOverlap":false}},"y":{"field":"v","type":"quantitative","scale":{"domain":[0,9],"nice":false},"axis":{"orient":"left","values":[0,3,6,9],"labelOverlap":false,"title":"Sr/Ca (× 10⁻³)","titlePadding":0}}}},
  {"data":{"name":"sr"},"transform":[{"filter":"datum.f==13"}],"mark":{"type":"point","filled":true,"size":14,"opacity":1},"encoding":{"x":{"field":"x","type":"quantitative","axis":null},"y":{"field":"v","type":"quantitative","axis":null},"fill":{"datum":"Sr/Ca","type":"nominal"}}},
  {"data":{"name":"bands"},"transform":[{"filter":"datum.f==13"},{"calculate":"(datum.x0+datum.x1)/2","as":"xc"}],"mark":{"type":"text","angle":270,"align":"right","baseline":"middle","fontSize":12,"color":"#333"},"encoding":{"x":{"field":"xc","type":"quantitative","axis":null},"y":{"datum":8.3,"type":"quantitative","axis":null},"text":{"field":"label"}}},
  {"data":{"name":"panels"},"transform":[{"filter":"datum.f==13"}],"mark":{"type":"text","fontSize":12,"color":"#111","align":"center","baseline":"middle"},"encoding":{"x":{"datum":290,"type":"quantitative","axis":null},"y":{"datum":8.1,"type":"quantitative","axis":null},"text":{"field":"name"}}}
 ]},
 {"resolve":{"axis":{"y":"independent"}},"layer":[
  {"data":{"name":"ba"},"transform":[{"filter":"datum.f==13"}],"mark":{"type":"line","color":"#333","strokeWidth":0.8},"encoding":{"x":{"field":"x","type":"quantitative","axis":null},"y":{"field":"v","type":"quantitative","scale":{"domain":[0,300],"nice":false},"axis":{"orient":"right","values":[0,100,200,300],"labelOverlap":false,"title":"Ba/Ca (× 10⁻⁶)","titleAngle":270,"titlePadding":17}}}},
  {"data":{"name":"ba"},"transform":[{"filter":"datum.f==13"}],"mark":{"type":"point","filled":true,"size":16,"stroke":"#333","strokeWidth":0.8,"opacity":1},"encoding":{"x":{"field":"x","type":"quantitative","axis":null},"y":{"field":"v","type":"quantitative","axis":{"orient":"right","values":[50,150,250],"labels":false,"domain":false,"title":null,"tickSize":3}},"fill":{"datum":"Ba/Ca","type":"nominal"}}}
 ]}
]},
{"width":271,"height":104,"resolve":{"scale":{"y":"independent"}},"layer":[
 {"resolve":{"axis":{"x":"independent","y":"independent"}},"layer":[
  {"data":{"name":"bands"},"transform":[{"filter":"datum.f==14"}],"mark":{"type":"rect","color":"#d9d9d9"},"encoding":{"x":{"field":"x0","type":"quantitative","axis":{"orient":"bottom","values":[0,100,200,300,400,600,700,800,900,1100,1200,1300,1400,1600,1700,1800,1900,2100,2200,2300,2400],"labels":false,"domain":false,"title":null,"tickSize":3}},"x2":{"field":"x1"},"y":{"datum":0,"type":"quantitative","axis":null},"y2":{"datum":9}}},
  {"data":{"name":"grid"},"mark":{"type":"rule","color":"#444","strokeWidth":1},"encoding":{"y":{"field":"g","type":"quantitative","axis":{"orient":"left","values":[1.5,4.5,7.5],"labels":false,"domain":false,"title":null,"tickSize":3}}}},
  {"data":{"name":"sr"},"transform":[{"filter":"datum.f==14"}],"mark":{"type":"line","color":"#111","strokeWidth":1},"encoding":{"x":{"field":"x","type":"quantitative","scale":{"domain":[0,2500],"nice":false},"axis":{"orient":"bottom","values":[0,500,1000,1500,2000,2500],"format":"d","title":null,"labelFlush":false,"labelOverlap":false}},"y":{"field":"v","type":"quantitative","scale":{"domain":[0,9],"nice":false},"axis":{"orient":"left","values":[0,3,6,9],"labelOverlap":false,"title":"Sr/Ca (× 10⁻³)","titlePadding":0}}}},
  {"data":{"name":"sr"},"transform":[{"filter":"datum.f==14"}],"mark":{"type":"point","filled":true,"size":14,"opacity":1},"encoding":{"x":{"field":"x","type":"quantitative","axis":null},"y":{"field":"v","type":"quantitative","axis":null},"fill":{"datum":"Sr/Ca","type":"nominal"}}},
  {"data":{"name":"bands"},"transform":[{"filter":"datum.f==14"},{"calculate":"(datum.x0+datum.x1)/2","as":"xc"}],"mark":{"type":"text","angle":270,"align":"right","baseline":"middle","fontSize":12,"color":"#333"},"encoding":{"x":{"field":"xc","type":"quantitative","axis":null},"y":{"datum":8.3,"type":"quantitative","axis":null},"text":{"field":"label"}}},
  {"data":{"name":"panels"},"transform":[{"filter":"datum.f==14"}],"mark":{"type":"text","fontSize":12,"color":"#111","align":"center","baseline":"middle"},"encoding":{"x":{"datum":280,"type":"quantitative","axis":null},"y":{"datum":8.1,"type":"quantitative","axis":null},"text":{"field":"name"}}}
 ]},
 {"resolve":{"axis":{"y":"independent"}},"layer":[
  {"data":{"name":"ba"},"transform":[{"filter":"datum.f==14"}],"mark":{"type":"line","color":"#333","strokeWidth":0.8},"encoding":{"x":{"field":"x","type":"quantitative","axis":null},"y":{"field":"v","type":"quantitative","scale":{"domain":[0,300],"nice":false},"axis":{"orient":"right","values":[0,100,200,300],"labelOverlap":false,"title":"Ba/Ca (× 10⁻⁶)","titleAngle":270,"titlePadding":17}}}},
  {"data":{"name":"ba"},"transform":[{"filter":"datum.f==14"}],"mark":{"type":"point","filled":true,"size":16,"stroke":"#333","strokeWidth":0.8,"opacity":1},"encoding":{"x":{"field":"x","type":"quantitative","axis":null},"y":{"field":"v","type":"quantitative","axis":{"orient":"right","values":[50,150,250],"labels":false,"domain":false,"title":null,"tickSize":3}},"fill":{"datum":"Ba/Ca","type":"nominal"}}}
 ]}
]},
{"width":271,"height":104,"resolve":{"scale":{"y":"independent"}},"layer":[
 {"resolve":{"axis":{"x":"independent","y":"independent"}},"layer":[
  {"data":{"name":"bands"},"transform":[{"filter":"datum.f==15"}],"mark":{"type":"rect","color":"#d9d9d9"},"encoding":{"x":{"field":"x0","type":"quantitative","axis":{"orient":"bottom","values":[0,100,200,300,400,600,700,800,900,1100,1200,1300,1400,1600,1700,1800,1900,2100,2200,2300,2400],"labels":false,"domain":false,"title":null,"tickSize":3}},"x2":{"field":"x1"},"y":{"datum":0,"type":"quantitative","axis":null},"y2":{"datum":9}}},
  {"data":{"name":"grid"},"mark":{"type":"rule","color":"#444","strokeWidth":1},"encoding":{"y":{"field":"g","type":"quantitative","axis":{"orient":"left","values":[1.5,4.5,7.5],"labels":false,"domain":false,"title":null,"tickSize":3}}}},
  {"data":{"name":"sr"},"transform":[{"filter":"datum.f==15"}],"mark":{"type":"line","color":"#111","strokeWidth":1},"encoding":{"x":{"field":"x","type":"quantitative","scale":{"domain":[0,2500],"nice":false},"axis":{"orient":"bottom","values":[0,500,1000,1500,2000,2500],"format":"d","title":null,"labelFlush":false,"labelOverlap":false}},"y":{"field":"v","type":"quantitative","scale":{"domain":[0,9],"nice":false},"axis":{"orient":"left","values":[0,3,6,9],"labelOverlap":false,"title":"Sr/Ca (× 10⁻³)","titlePadding":0}}}},
  {"data":{"name":"sr"},"transform":[{"filter":"datum.f==15"}],"mark":{"type":"point","filled":true,"size":14,"opacity":1},"encoding":{"x":{"field":"x","type":"quantitative","axis":null},"y":{"field":"v","type":"quantitative","axis":null},"fill":{"datum":"Sr/Ca","type":"nominal"}}},
  {"data":{"name":"bands"},"transform":[{"filter":"datum.f==15"},{"calculate":"(datum.x0+datum.x1)/2","as":"xc"}],"mark":{"type":"text","angle":270,"align":"right","baseline":"middle","fontSize":12,"color":"#333"},"encoding":{"x":{"field":"xc","type":"quantitative","axis":null},"y":{"datum":8.3,"type":"quantitative","axis":null},"text":{"field":"label"}}},
  {"data":{"name":"panels"},"transform":[{"filter":"datum.f==15"}],"mark":{"type":"text","fontSize":12,"color":"#111","align":"center","baseline":"middle"},"encoding":{"x":{"datum":290,"type":"quantitative","axis":null},"y":{"datum":8.1,"type":"quantitative","axis":null},"text":{"field":"name"}}}
 ]},
 {"resolve":{"axis":{"y":"independent"}},"layer":[
  {"data":{"name":"ba"},"transform":[{"filter":"datum.f==15"}],"mark":{"type":"line","color":"#333","strokeWidth":0.8},"encoding":{"x":{"field":"x","type":"quantitative","axis":null},"y":{"field":"v","type":"quantitative","scale":{"domain":[0,300],"nice":false},"axis":{"orient":"right","values":[0,100,200,300],"labelOverlap":false,"title":"Ba/Ca (× 10⁻⁶)","titleAngle":270,"titlePadding":17}}}},
  {"data":{"name":"ba"},"transform":[{"filter":"datum.f==15"}],"mark":{"type":"point","filled":true,"size":16,"stroke":"#333","strokeWidth":0.8,"opacity":1},"encoding":{"x":{"field":"x","type":"quantitative","axis":null},"y":{"field":"v","type":"quantitative","axis":{"orient":"right","values":[50,150,250],"labels":false,"domain":false,"title":null,"tickSize":3}},"fill":{"datum":"Ba/Ca","type":"nominal"}}}
 ]}
]}
],
"config": {
 "font": "Liberation Sans",
 "view": {"stroke": "#333", "strokeWidth": 1},
 "axis": {"grid": false, "domainColor": "#333", "tickColor": "#333", "labelColor": "#333", "labelFontSize": 12, "titleFontSize": 12, "titleFontWeight": "normal", "titleColor": "#666", "tickSize": 4, "labelPadding": 2, "labelOverlap": false},
 "axisBottom": {"labelPadding": 3},
 "axisRight": {"labelPadding": 4}
}
}
